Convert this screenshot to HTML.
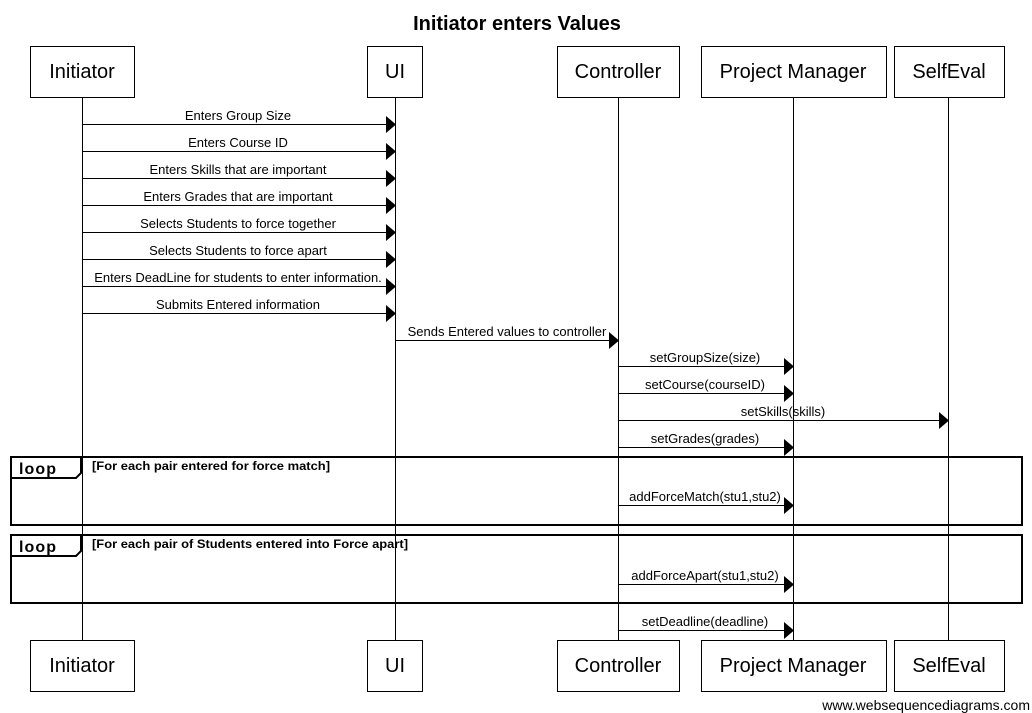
<!DOCTYPE html>
<html><head><meta charset="utf-8"><style>
html,body{margin:0;padding:0;background:#fff;}
svg{display:block;font-family:"Liberation Sans",Arial,sans-serif;}
</style></head><body>
<svg width="1032" height="713" viewBox="0 0 1032 713" xmlns="http://www.w3.org/2000/svg">
<text x="517" y="30" text-anchor="middle" font-size="20" font-weight="bold">Initiator enters Values</text>
<g stroke="#000" stroke-width="1">
<line x1="82.5" y1="97" x2="82.5" y2="640"/>
<line x1="395.5" y1="97" x2="395.5" y2="640"/>
<line x1="618.5" y1="97" x2="618.5" y2="640"/>
<line x1="793.5" y1="97" x2="793.5" y2="640"/>
<line x1="948.5" y1="97" x2="948.5" y2="640"/>
</g>
<g fill="#fff" stroke="#000" stroke-width="1">
<rect x="30.5" y="46.5" width="104" height="51"/>
<rect x="367.5" y="46.5" width="55" height="51"/>
<rect x="557.5" y="46.5" width="122" height="51"/>
<rect x="701.5" y="46.5" width="185" height="51"/>
<rect x="894.5" y="46.5" width="110" height="51"/>
<rect x="30.5" y="640.5" width="104" height="51"/>
<rect x="367.5" y="640.5" width="55" height="51"/>
<rect x="557.5" y="640.5" width="122" height="51"/>
<rect x="701.5" y="640.5" width="185" height="51"/>
<rect x="894.5" y="640.5" width="110" height="51"/>
</g>
<g font-size="20" text-anchor="middle">
<text x="82" y="78">Initiator</text><text x="395" y="78">UI</text><text x="618" y="78">Controller</text><text x="793" y="78">Project Manager</text><text x="949" y="78">SelfEval</text>
<text x="82" y="672">Initiator</text><text x="395" y="672">UI</text><text x="618" y="672">Controller</text><text x="793" y="672">Project Manager</text><text x="949" y="672">SelfEval</text>
</g>
<g fill="none" stroke="#000" stroke-width="2">
<rect x="11" y="457" width="1011" height="68"/>
<rect x="11" y="535" width="1011" height="68"/>
<path d="M11 478 H76 L81 473 V457"/>
<path d="M11 556 H76 L81 551 V535"/>
</g>
<g font-size="16" font-weight="bold"><text x="19" y="474" textLength="37">loop</text><text x="19" y="552" textLength="37">loop</text></g>
<g font-size="12" font-weight="bold"><text x="92" y="470" textLength="238" lengthAdjust="spacingAndGlyphs">[For each pair entered for force match]</text><text x="92" y="548" textLength="316" lengthAdjust="spacingAndGlyphs">[For each pair of Students entered into Force apart]</text></g>
<g stroke="#000" stroke-width="1">
<line x1="82" y1="124.5" x2="387" y2="124.5"/>
<line x1="82" y1="151.5" x2="387" y2="151.5"/>
<line x1="82" y1="178.5" x2="387" y2="178.5"/>
<line x1="82" y1="205.5" x2="387" y2="205.5"/>
<line x1="82" y1="232.5" x2="387" y2="232.5"/>
<line x1="82" y1="259.5" x2="387" y2="259.5"/>
<line x1="82" y1="286.5" x2="387" y2="286.5"/>
<line x1="82" y1="313.5" x2="387" y2="313.5"/>
<line x1="395" y1="340.5" x2="610" y2="340.5"/>
<line x1="618" y1="366.5" x2="785" y2="366.5"/>
<line x1="618" y1="393.5" x2="785" y2="393.5"/>
<line x1="618" y1="420.5" x2="940" y2="420.5"/>
<line x1="618" y1="447.5" x2="785" y2="447.5"/>
<line x1="618" y1="505.5" x2="785" y2="505.5"/>
<line x1="618" y1="584.5" x2="785" y2="584.5"/>
<line x1="618" y1="630.5" x2="785" y2="630.5"/>
</g>
<g fill="#000">
<path d="M386 116 L396 124.5 L386 133Z"/>
<path d="M386 143 L396 151.5 L386 160Z"/>
<path d="M386 170 L396 178.5 L386 187Z"/>
<path d="M386 197 L396 205.5 L386 214Z"/>
<path d="M386 224 L396 232.5 L386 241Z"/>
<path d="M386 251 L396 259.5 L386 268Z"/>
<path d="M386 278 L396 286.5 L386 295Z"/>
<path d="M386 305 L396 313.5 L386 322Z"/>
<path d="M609 332 L619 340.5 L609 349Z"/>
<path d="M784 358 L794 366.5 L784 375Z"/>
<path d="M784 385 L794 393.5 L784 402Z"/>
<path d="M939 412 L949 420.5 L939 429Z"/>
<path d="M784 439 L794 447.5 L784 456Z"/>
<path d="M784 497 L794 505.5 L784 514Z"/>
<path d="M784 576 L794 584.5 L784 593Z"/>
<path d="M784 622 L794 630.5 L784 639Z"/>
</g>
<g font-size="13" text-anchor="middle">
<text x="238" y="120">Enters Group Size</text>
<text x="238" y="147">Enters Course ID</text>
<text x="238" y="174">Enters Skills that are important</text>
<text x="238" y="201">Enters Grades that are important</text>
<text x="238" y="228">Selects Students to force together</text>
<text x="238" y="255">Selects Students to force apart</text>
<text x="238" y="282">Enters DeadLine for students to enter information.</text>
<text x="238" y="309">Submits Entered information</text>
<text x="507" y="336">Sends Entered values to controller</text>
<text x="705" y="362">setGroupSize(size)</text>
<text x="705" y="389">setCourse(courseID)</text>
<text x="783" y="416">setSkills(skills)</text>
<text x="705" y="443">setGrades(grades)</text>
<text x="705" y="501">addForceMatch(stu1,stu2)</text>
<text x="705" y="580">addForceApart(stu1,stu2)</text>
<text x="705" y="626">setDeadline(deadline)</text>
</g>
<text x="1030" y="710" font-size="14" text-anchor="end">www.websequencediagrams.com</text>
</svg>
</body></html>
